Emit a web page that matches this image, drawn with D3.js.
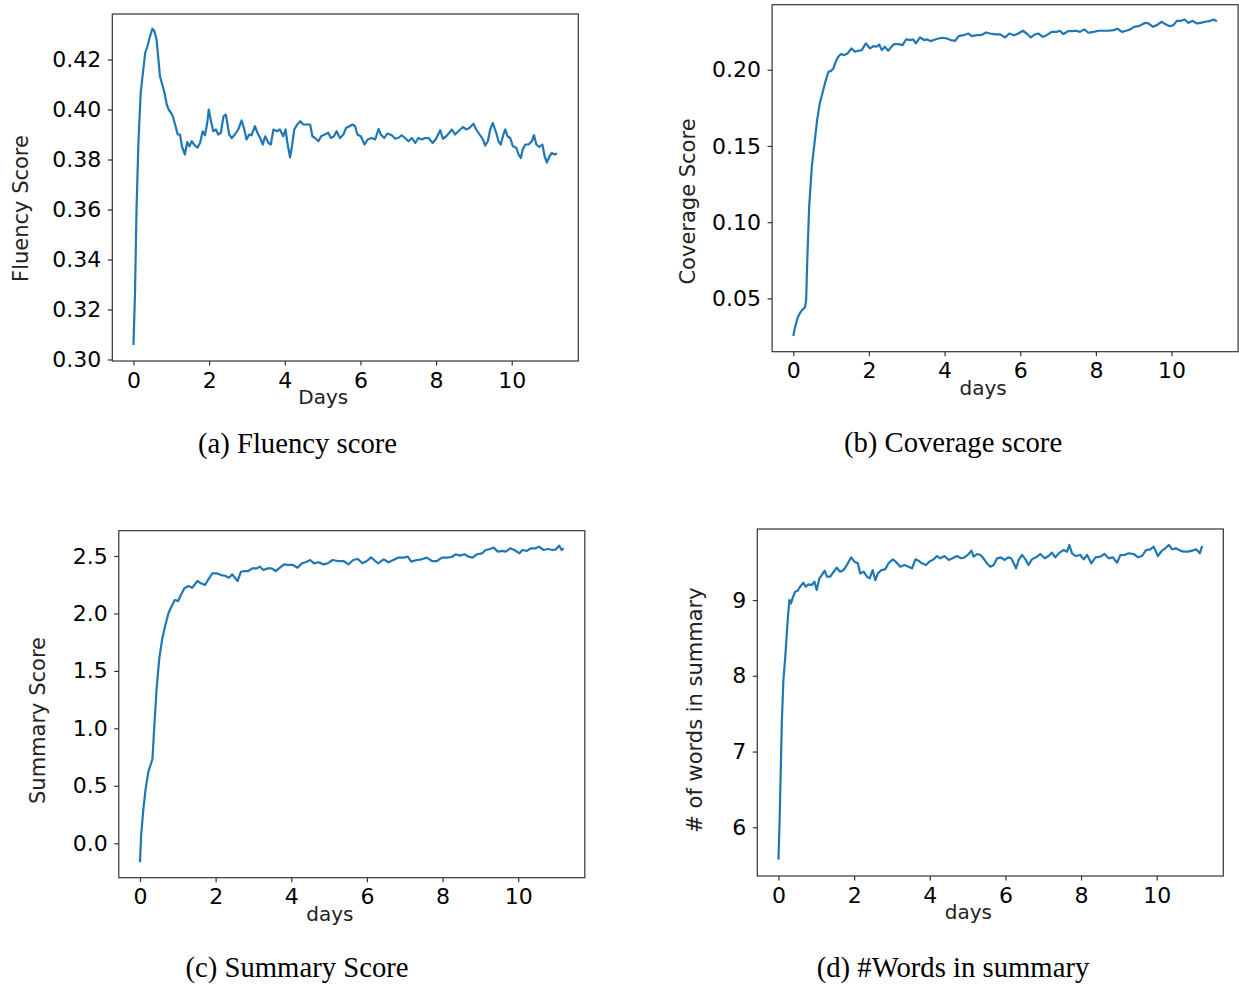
<!DOCTYPE html>
<html>
<head>
<meta charset="utf-8">
<script src="https://cdn.jsdelivr.net/npm/d3@7"></script>
<style>
  html, body { margin: 0; padding: 0; background: #fff; }
  svg { display: block; }
</style>
</head>
<body>
<div id="chart"></div>
<script>
// days on the x axis, shared by all four plots
const dayTicks = [0, 2, 4, 6, 8, 10];
const dayDomain = [-0.56, 11.76];

// (a) fluency score
const fluencyTicks = [0.30, 0.32, 0.34, 0.36, 0.38, 0.40, 0.42];
const fluency = [
  [0, 0.3058], [0.04, 0.3265], [0.08, 0.3599], [0.13, 0.3866], [0.19, 0.4066], [0.26, 0.416],
  [0.31, 0.4227], [0.37, 0.4253], [0.44, 0.4294], [0.5, 0.4323], [0.55, 0.4314], [0.61, 0.428],
  [0.66, 0.42], [0.70, 0.4133], [0.75, 0.4106], [0.81, 0.4073], [0.88, 0.402], [0.93, 0.40],
  [0.99, 0.3987], [1.04, 0.3973], [1.10, 0.394], [1.17, 0.39], [1.23, 0.39], [1.28, 0.3853],
  [1.36, 0.382], [1.42, 0.387], [1.48, 0.3853], [1.54, 0.3873], [1.60, 0.386], [1.69, 0.3847],
  [1.76, 0.3866], [1.83, 0.3913], [1.89, 0.3897], [1.95, 0.3946], [1.99, 0.40], [2.05, 0.3953],
  [2.11, 0.3913], [2.18, 0.392], [2.24, 0.39], [2.31, 0.3907], [2.38, 0.3973], [2.44, 0.398],
  [2.48, 0.3946], [2.53, 0.39], [2.60, 0.3886], [2.68, 0.39], [2.77, 0.392], [2.86, 0.3956],
  [2.92, 0.3926], [2.99, 0.388], [3.06, 0.39], [3.12, 0.3897], [3.21, 0.3933], [3.28, 0.3906],
  [3.35, 0.3886], [3.42, 0.386], [3.48, 0.3893], [3.57, 0.3866], [3.63, 0.386], [3.70, 0.392],
  [3.79, 0.3913], [3.87, 0.392], [3.96, 0.3893], [4.02, 0.392], [4.07, 0.3866], [4.14, 0.3808],
  [4.19, 0.3853], [4.25, 0.392], [4.33, 0.394], [4.41, 0.3953], [4.49, 0.394], [4.58, 0.394],
  [4.67, 0.394], [4.73, 0.3893], [4.80, 0.3886], [4.89, 0.3873], [4.96, 0.3893], [5.06, 0.39],
  [5.15, 0.3907], [5.22, 0.3886], [5.30, 0.3893], [5.37, 0.3913], [5.46, 0.3886], [5.55, 0.39],
  [5.62, 0.3926], [5.71, 0.3933], [5.79, 0.394], [5.86, 0.3933], [5.92, 0.39], [6.01, 0.3893],
  [6.11, 0.386], [6.19, 0.388], [6.30, 0.3886], [6.39, 0.388], [6.48, 0.3922], [6.54, 0.39],
  [6.63, 0.3886], [6.71, 0.3904], [6.83, 0.3897], [6.92, 0.3883], [7.00, 0.3886], [7.09, 0.3897],
  [7.18, 0.3886], [7.27, 0.3873], [7.36, 0.3886], [7.45, 0.3866], [7.53, 0.3886], [7.62, 0.388],
  [7.71, 0.3886], [7.80, 0.3886], [7.91, 0.3866], [8.00, 0.3883], [8.11, 0.3917], [8.18, 0.3883],
  [8.27, 0.3893], [8.35, 0.3907], [8.42, 0.392], [8.50, 0.39], [8.59, 0.3913], [8.71, 0.393],
  [8.80, 0.392], [8.88, 0.3926], [8.99, 0.3943], [9.06, 0.392], [9.15, 0.39], [9.24, 0.388],
  [9.30, 0.3856], [9.37, 0.3873], [9.43, 0.392], [9.50, 0.3946], [9.59, 0.3907], [9.65, 0.3873],
  [9.71, 0.386], [9.78, 0.39], [9.83, 0.392], [9.89, 0.3893], [9.96, 0.3886], [10.03, 0.3853],
  [10.12, 0.3847], [10.18, 0.382], [10.24, 0.3806], [10.29, 0.384], [10.36, 0.386], [10.45, 0.386],
  [10.53, 0.3873], [10.59, 0.3897], [10.65, 0.386], [10.73, 0.385], [10.81, 0.386], [10.87, 0.3813],
  [10.93, 0.3788], [11.00, 0.3813], [11.06, 0.3826], [11.13, 0.382], [11.2, 0.3824]
];

// (b) coverage score
const coverageTicks = [0.05, 0.10, 0.15, 0.20];
const coverage = [
  [0, 0.0253], [0.04, 0.0303], [0.11, 0.0369], [0.18, 0.0406], [0.25, 0.0428], [0.31, 0.0441],
  [0.34, 0.0489], [0.37, 0.0752], [0.42, 0.1102], [0.49, 0.1364], [0.56, 0.1517], [0.63, 0.167],
  [0.70, 0.1779], [0.78, 0.1856], [0.86, 0.1932], [0.93, 0.1987], [0.99, 0.1991], [1.06, 0.2009],
  [1.12, 0.2052], [1.19, 0.2085], [1.26, 0.2103], [1.34, 0.2096], [1.43, 0.2107], [1.54, 0.214],
  [1.63, 0.2118], [1.72, 0.2125], [1.81, 0.2129], [1.92, 0.2173], [2.03, 0.214], [2.12, 0.2155],
  [2.20, 0.2151], [2.27, 0.2166], [2.34, 0.2129], [2.42, 0.2151], [2.51, 0.2125], [2.57, 0.2144],
  [2.66, 0.2168], [2.78, 0.2168], [2.89, 0.2162], [2.98, 0.2199], [3.09, 0.2195], [3.17, 0.2199],
  [3.24, 0.2173], [3.35, 0.2212], [3.46, 0.2195], [3.54, 0.2199], [3.63, 0.2188], [3.75, 0.2199],
  [3.84, 0.2205], [3.95, 0.221], [4.06, 0.2205], [4.16, 0.2195], [4.28, 0.219], [4.37, 0.2221],
  [4.50, 0.2227], [4.63, 0.2238], [4.72, 0.2221], [4.85, 0.2227], [4.96, 0.2227], [5.10, 0.2245],
  [5.20, 0.2238], [5.34, 0.2232], [5.47, 0.2232], [5.60, 0.2212], [5.71, 0.2238], [5.84, 0.2227],
  [5.95, 0.2238], [6.07, 0.2256], [6.17, 0.2238], [6.28, 0.2212], [6.39, 0.2232], [6.48, 0.2238],
  [6.60, 0.2216], [6.70, 0.2227], [6.83, 0.2249], [6.97, 0.2249], [7.05, 0.2256], [7.14, 0.2234],
  [7.26, 0.2253], [7.36, 0.2253], [7.49, 0.2256], [7.58, 0.2249], [7.69, 0.2265], [7.80, 0.2243],
  [7.94, 0.2249], [8.07, 0.2256], [8.20, 0.2256], [8.33, 0.2256], [8.47, 0.226], [8.57, 0.2269],
  [8.69, 0.2249], [8.80, 0.2256], [8.91, 0.2265], [9.01, 0.2282], [9.13, 0.2286], [9.22, 0.2297],
  [9.30, 0.2308], [9.39, 0.2304], [9.51, 0.2282], [9.61, 0.2293], [9.74, 0.2315], [9.83, 0.23],
  [9.95, 0.2286], [10.05, 0.2293], [10.14, 0.2321], [10.25, 0.2321], [10.34, 0.233], [10.45, 0.2308],
  [10.56, 0.2321], [10.67, 0.2304], [10.77, 0.2308], [10.89, 0.2315], [11.00, 0.2319], [11.11, 0.233],
  [11.2, 0.2319]
];

// (c) summary score
const summaryTicks = [0.0, 0.5, 1.0, 1.5, 2.0, 2.5];
const summary = [
  [0, -0.166], [0.03, 0.067], [0.09, 0.299], [0.15, 0.474], [0.22, 0.619], [0.29, 0.692],
  [0.33, 0.735], [0.38, 1.026], [0.44, 1.346], [0.51, 1.608], [0.59, 1.782], [0.66, 1.884],
  [0.75, 2.0], [0.83, 2.058], [0.92, 2.116], [1.01, 2.108], [1.08, 2.16], [1.17, 2.218],
  [1.28, 2.238], [1.38, 2.224], [1.52, 2.282], [1.61, 2.262], [1.72, 2.247], [1.81, 2.297],
  [1.91, 2.349], [2.03, 2.349], [2.14, 2.334], [2.25, 2.328], [2.35, 2.311], [2.44, 2.34],
  [2.51, 2.311], [2.58, 2.282], [2.67, 2.363], [2.78, 2.369], [2.86, 2.369], [2.97, 2.392],
  [3.09, 2.392], [3.17, 2.407], [3.26, 2.378], [3.38, 2.392], [3.48, 2.392], [3.59, 2.369],
  [3.70, 2.398], [3.81, 2.427], [3.92, 2.422], [4.04, 2.422], [4.17, 2.398], [4.28, 2.436],
  [4.38, 2.445], [4.50, 2.465], [4.60, 2.436], [4.72, 2.445], [4.85, 2.427], [4.96, 2.436],
  [5.09, 2.465], [5.23, 2.456], [5.38, 2.456], [5.51, 2.427], [5.64, 2.465], [5.76, 2.474],
  [5.88, 2.436], [6.0, 2.456], [6.11, 2.488], [6.22, 2.456], [6.30, 2.436], [6.44, 2.471],
  [6.57, 2.445], [6.70, 2.465], [6.83, 2.486], [6.97, 2.486], [7.08, 2.494], [7.17, 2.451],
  [7.32, 2.465], [7.45, 2.471], [7.58, 2.486], [7.72, 2.456], [7.85, 2.456], [7.98, 2.486],
  [8.11, 2.486], [8.24, 2.491], [8.35, 2.515], [8.46, 2.503], [8.58, 2.515], [8.68, 2.494],
  [8.79, 2.486], [8.91, 2.515], [9.04, 2.523], [9.14, 2.552], [9.26, 2.561], [9.35, 2.573],
  [9.46, 2.538], [9.57, 2.544], [9.67, 2.538], [9.79, 2.567], [9.90, 2.552], [10.03, 2.523],
  [10.11, 2.552], [10.23, 2.544], [10.34, 2.567], [10.46, 2.567], [10.55, 2.581], [10.67, 2.552],
  [10.78, 2.561], [10.91, 2.552], [11.0, 2.558], [11.08, 2.59], [11.15, 2.552], [11.2, 2.567]
];

// (d) number of words in summary
const wordTicks = [6, 7, 8, 9];
const words = [
  [0, 5.573], [0.03, 6.093], [0.06, 6.753], [0.09, 7.414], [0.13, 7.943], [0.18, 8.251],
  [0.22, 8.559], [0.25, 8.78], [0.29, 9.0], [0.33, 8.956], [0.38, 9.035], [0.44, 9.11],
  [0.51, 9.123], [0.57, 9.176], [0.66, 9.229], [0.72, 9.176], [0.79, 9.207], [0.88, 9.198],
  [0.95, 9.242], [1.01, 9.132], [1.08, 9.286], [1.15, 9.33], [1.22, 9.388], [1.28, 9.308],
  [1.37, 9.308], [1.46, 9.374], [1.54, 9.427], [1.63, 9.374], [1.72, 9.396], [1.81, 9.463],
  [1.92, 9.564], [2.01, 9.507], [2.10, 9.485], [2.16, 9.352], [2.25, 9.374], [2.34, 9.308],
  [2.41, 9.286], [2.49, 9.396], [2.56, 9.264], [2.63, 9.352], [2.72, 9.396], [2.82, 9.405],
  [2.91, 9.485], [3.02, 9.537], [3.10, 9.507], [3.22, 9.441], [3.33, 9.463], [3.44, 9.441],
  [3.53, 9.418], [3.62, 9.537], [3.70, 9.52], [3.79, 9.485], [3.90, 9.463], [3.99, 9.507],
  [4.10, 9.537], [4.19, 9.581], [4.28, 9.551], [4.39, 9.581], [4.50, 9.529], [4.60, 9.551],
  [4.72, 9.581], [4.83, 9.551], [4.92, 9.564], [5.03, 9.608], [5.10, 9.652], [5.16, 9.573],
  [5.25, 9.608], [5.34, 9.595], [5.42, 9.551], [5.51, 9.485], [5.60, 9.441], [5.69, 9.463],
  [5.78, 9.551], [5.88, 9.564], [5.98, 9.529], [6.07, 9.564], [6.15, 9.551], [6.22, 9.485],
  [6.28, 9.418], [6.35, 9.529], [6.44, 9.595], [6.53, 9.537], [6.61, 9.463], [6.70, 9.537],
  [6.81, 9.564], [6.92, 9.608], [7.04, 9.551], [7.14, 9.581], [7.23, 9.626], [7.32, 9.564],
  [7.43, 9.626], [7.54, 9.661], [7.63, 9.639], [7.69, 9.727], [7.76, 9.617], [7.86, 9.581],
  [7.98, 9.595], [8.07, 9.537], [8.16, 9.595], [8.27, 9.485], [8.38, 9.564], [8.51, 9.573],
  [8.62, 9.608], [8.73, 9.551], [8.84, 9.564], [8.95, 9.493], [9.04, 9.595], [9.15, 9.595],
  [9.26, 9.617], [9.39, 9.608], [9.51, 9.564], [9.61, 9.581], [9.72, 9.661], [9.83, 9.67],
  [9.92, 9.705], [10.03, 9.581], [10.14, 9.652], [10.23, 9.683], [10.32, 9.727], [10.41, 9.67],
  [10.51, 9.683], [10.63, 9.652], [10.71, 9.639], [10.83, 9.639], [10.94, 9.652], [11.04, 9.67],
  [11.14, 9.617], [11.2, 9.714]
];

const W = 1239, H = 985;
const plotW = 466, plotH = 347;

const panels = [
  { data: fluency, ticks: fluencyTicks, fmt: ".2f", yDomain: [0.2994, 0.4382],
    left: 112.3, top: 14, ylabel: "Fluency Score", ylabelX: 28, ylabelY: 208.5,
    xlabel: "Days", caption: "(a) Fluency score", capX: 297.5, capY: 453 },
  { data: coverage, ticks: coverageTicks, fmt: ".2f", yDomain: [0.015, 0.2427],
    left: 772.1, top: 4.7, ylabel: "Coverage Score", ylabelX: 694.5, ylabelY: 201.5,
    xlabel: "days", caption: "(b) Coverage score", capX: 953, capY: 452 },
  { data: summary, ticks: summaryTicks, fmt: ".1f", yDomain: [-0.30, 2.72],
    left: 118.8, top: 530.7, ylabel: "Summary Score", ylabelX: 45, ylabelY: 720.5,
    xlabel: "days", caption: "(c) Summary Score", capX: 297, capY: 977 },
  { data: words, ticks: wordTicks, fmt: "d", yDomain: [5.357, 9.938],
    left: 757.3, top: 529, ylabel: "# of words in summary", ylabelX: 702, ylabelY: 710,
    xlabel: "days", caption: "(d) #Words in summary", capX: 953, capY: 977 }
];

const svg = d3.select("#chart").append("svg")
  .attr("width", W)
  .attr("height", H)
  .attr("font-family", "'DejaVu Sans', sans-serif");

panels.forEach(p => {
  const x = d3.scaleLinear().domain(dayDomain).range([0, plotW]);
  const y = d3.scaleLinear().domain(p.yDomain).range([plotH, 0]);

  const g = svg.append("g").attr("transform", `translate(${p.left},${p.top})`);

  const line = d3.line().x(d => x(d[0])).y(d => y(d[1]));
  g.append("path")
    .datum(p.data)
    .attr("fill", "none")
    .attr("stroke", "#1f77b4")
    .attr("stroke-width", 2.2)
    .attr("stroke-linejoin", "round")
    .attr("d", line);

  const xAxis = d3.axisBottom(x).tickValues(dayTicks).tickSize(4.5).tickPadding(6.5).tickFormat(d3.format("d"));
  const yAxis = d3.axisLeft(y).tickValues(p.ticks).tickSize(4.5).tickPadding(6.5).tickFormat(d3.format(p.fmt));

  const gx = g.append("g").attr("transform", `translate(0,${plotH})`).call(xAxis);
  const gy = g.append("g").call(yAxis);
  [gx, gy].forEach(a => {
    a.select(".domain").remove();
    a.selectAll(".tick line").attr("stroke", "#333").attr("stroke-width", 1.2);
    a.selectAll(".tick text")
      .attr("fill", "#000")
      .attr("font-size", 22)
      .attr("font-family", "'DejaVu Sans', sans-serif");
  });

  // frame
  g.append("rect")
    .attr("width", plotW)
    .attr("height", plotH)
    .attr("fill", "none")
    .attr("stroke", "#333")
    .attr("stroke-width", 1.2);

  // x label sits between the 4 and 6 ticks
  g.append("text")
    .attr("x", 211)
    .attr("y", plotH + 43)
    .attr("text-anchor", "middle")
    .attr("font-size", 20)
    .attr("fill", "#222")
    .text(p.xlabel);

  svg.append("text")
    .attr("transform", `translate(${p.ylabelX},${p.ylabelY}) rotate(-90)`)
    .attr("text-anchor", "middle")
    .attr("font-size", 21)
    .attr("fill", "#222")
    .text(p.ylabel);

  svg.append("text")
    .attr("x", p.capX)
    .attr("y", p.capY)
    .attr("text-anchor", "middle")
    .attr("font-family", "'Liberation Serif', 'Times New Roman', serif")
    .attr("font-size", 28.7)
    .attr("fill", "#000")
    .text(p.caption);
});
</script>
</body>
</html>
